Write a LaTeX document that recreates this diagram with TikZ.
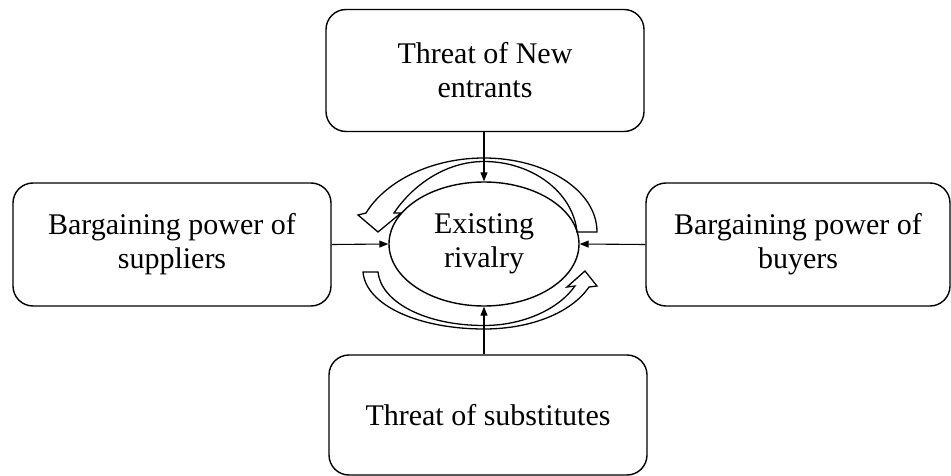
\documentclass[tikz,border=0pt]{standalone}
\usepackage{fontspec}
\setmainfont{Liberation Serif}
\usetikzlibrary{shapes.geometric,arrows.meta}
\tikzset{
  forcebox/.style={draw, line width=1.4pt, rounded corners=20pt, align=center,
    inner sep=0pt, font=\fontsize{30}{34}\selectfont},
  rivalry/.style={draw, ellipse, line width=1.4pt, align=center, inner sep=0pt,
    minimum width=190pt, minimum height=124pt, font=\fontsize{30}{34}\selectfont},
  conn/.style={line width=1.1pt, -{Triangle[length=9pt,width=7pt]}},
  cycarrow/.style={draw, fill=white, line width=1.3pt, line join=miter}
}
\begin{document}
\begin{tikzpicture}[x=1pt,y=-1pt]
\useasboundingbox (0,0) rectangle (951,476);
% curved block arrows
\path[cycarrow] (597,232) .. controls (597,190) and (545,158) .. (484,158)
  .. controls (430,158) and (385,182) .. (366,213)
  -- (358,215) -- (378,232) -- (401,213) -- (394,213)
  .. controls (412,186) and (445,161.5) .. (484,161.5)
  .. controls (532,161.5) and (573,192) .. (577,232) -- cycle;
\path[cycarrow] (363,272) .. controls (366,306) and (420,329) .. (484,329)
  .. controls (532,329) and (572,312) .. (589,287)
  -- (597,286) -- (585,271) -- (567,287) -- (575,286)
  .. controls (558,310) and (522,325.5) .. (484,325.5)
  .. controls (425,325.5) and (381,302) .. (378,272) -- cycle;
% nodes
\node[rivalry] (ell) at (484,244) {Existing\\rivalry};
\node[forcebox, minimum width=318pt, minimum height=122pt] (ent) at (485,70.5) {Threat of New\\entrants};
\node[forcebox, minimum width=318pt, minimum height=123pt] (sup) at (172,244.5) {Bargaining power of\\suppliers};
\node[forcebox, minimum width=304pt, minimum height=123pt] (buy) at (798,244.5) {Bargaining power of\\buyers};
\node[forcebox, minimum width=318pt, minimum height=120pt] (sub) at (488,415) {Threat of substitutes};
% connectors
\draw[conn] (ell.north |- ent.south) -- (ell.north);
\draw[conn] (sup.east) -- (ell.west);
\draw[conn] (buy.west) -- (ell.east);
\draw[conn] (ell.south |- sub.north) -- (ell.south);
\end{tikzpicture}
\end{document}
